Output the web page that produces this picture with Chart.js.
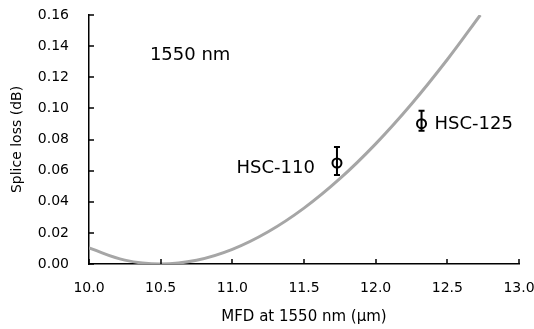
<!DOCTYPE html>
<html>
<head>
<meta charset="utf-8">
<script src="https://cdn.jsdelivr.net/npm/chart.js@4/dist/chart.umd.min.js"></script>
<style>
  html, body { margin: 0; padding: 0; background: #fff; }
  #wrap { width: 534px; height: 329px; position: relative; }
</style>
</head>
<body>
<div id="wrap"><canvas id="c" width="534" height="329"></canvas></div>
<script>
// Theoretical splice-loss curve
const curveMfd  = [10.0, 10.25, 10.5, 10.75, 11.0, 11.25, 11.5, 11.75, 12.0, 12.25, 12.5, 12.73];
const curveLoss = [0.0103, 0.0025, 0.0, 0.0024, 0.0094, 0.0207, 0.0359, 0.0548, 0.0772, 0.1028, 0.1314, 0.160];

// Measured fibers
const fiberNames = ['HSC-110', 'HSC-125'];
const fiberMfd   = [11.73, 12.32];
const fiberLoss  = [0.0649, 0.0902];
const errPlus    = [0.0103, 0.0083];
const errMinus   = [0.0077, 0.0045];

// Axis ticks
const xTicks = [10.0, 10.5, 11.0, 11.5, 12.0, 12.5, 13.0];
const yTicks = [0.00, 0.02, 0.04, 0.06, 0.08, 0.10, 0.12, 0.14, 0.16];

const FONT = "'DejaVu Sans', Verdana, sans-serif";

const innerTicks = {
  id: 'innerTicks',
  afterDatasetsDraw(chart) {
    const ctx = chart.ctx, xs = chart.scales.x, ys = chart.scales.y;
    const a = chart.chartArea;
    ctx.save();
    ctx.strokeStyle = '#000';
    ctx.lineWidth = 1.5;
    ctx.beginPath();
    xTicks.forEach(v => {
      const px = Math.round(xs.getPixelForValue(v));
      ctx.moveTo(px, a.bottom); ctx.lineTo(px, a.bottom - 5);
    });
    yTicks.forEach(v => {
      const py = Math.round(ys.getPixelForValue(v));
      ctx.moveTo(a.left, py); ctx.lineTo(a.left + 5, py);
    });
    ctx.stroke();
    ctx.restore();
  }
};

const errorBars = {
  id: 'errorBars',
  afterDatasetsDraw(chart) {
    const ctx = chart.ctx, xs = chart.scales.x, ys = chart.scales.y;
    ctx.save();
    ctx.strokeStyle = '#000';
    ctx.lineWidth = 2;
    fiberMfd.forEach((m, i) => {
      const px = xs.getPixelForValue(m);
      const top = ys.getPixelForValue(fiberLoss[i] + errPlus[i]);
      const bot = ys.getPixelForValue(fiberLoss[i] - errMinus[i]);
      ctx.beginPath();
      ctx.moveTo(px, top); ctx.lineTo(px, bot);
      ctx.moveTo(px - 3, top); ctx.lineTo(px + 3, top);
      ctx.moveTo(px - 3, bot); ctx.lineTo(px + 3, bot);
      ctx.stroke();
    });
    // annotations
    ctx.fillStyle = '#000';
    ctx.font = '18px ' + FONT;
    ctx.textBaseline = 'middle';
    ctx.textAlign = 'left';
    ctx.fillText('1550 nm', xs.getPixelForValue(10.425), ys.getPixelForValue(0.1338));
    ctx.textAlign = 'right';
    ctx.fillText(fiberNames[0], xs.getPixelForValue(fiberMfd[0]) - 22, ys.getPixelForValue(fiberLoss[0]) + 5);
    ctx.textAlign = 'left';
    ctx.fillText(fiberNames[1], xs.getPixelForValue(fiberMfd[1]) + 13, ys.getPixelForValue(fiberLoss[1]) + 1);
    ctx.restore();
  }
};

new Chart(document.getElementById('c'), {
  type: 'scatter',
  data: {
    datasets: [
      {
        label: 'theory',
        data: curveMfd.map((x, i) => ({ x, y: curveLoss[i] })),
        showLine: true,
        borderColor: '#a6a6a6',
        borderWidth: 3,
        pointRadius: 0,
        tension: 0.4,
        fill: false
      },
      {
        label: 'measured',
        data: fiberMfd.map((x, i) => ({ x, y: fiberLoss[i] })),
        showLine: false,
        pointStyle: 'circle',
        pointRadius: 4.5,
        pointBorderWidth: 2,
        borderColor: '#000',
        backgroundColor: 'rgba(255,255,255,0)'
      }
    ]
  },
  options: {
    responsive: false,
    animation: false,
    devicePixelRatio: 1,
    layout: { padding: 0 },
    plugins: { legend: { display: false }, tooltip: { enabled: false } },
    scales: {
      x: {
        type: 'linear', min: 10, max: 13,
        afterBuildTicks(s) { s.ticks = xTicks.map(v => ({ value: v })); },
        afterFit(s) { s.height = 65; s.paddingLeft = 0; s.paddingRight = 15; },
        grid: { drawOnChartArea: false, drawTicks: false },
        border: { display: true, color: '#000', width: 1.5 },
        ticks: { color: '#000', font: { family: FONT, size: 14 }, padding: 16,
                 callback: v => Number(v).toFixed(1) },
        title: { display: true, text: 'MFD at 1550 nm (µm)', color: '#000',
                 font: { family: FONT, size: 15 }, padding: { top: 4, bottom: 3 } }
      },
      y: {
        type: 'linear', min: 0, max: 0.16,
        afterBuildTicks(s) { s.ticks = yTicks.map(v => ({ value: v })); },
        afterFit(s) { s.width = 89; s.paddingTop = 15; s.paddingBottom = 0; },
        grid: { drawOnChartArea: false, drawTicks: false },
        border: { display: true, color: '#000', width: 1.5 },
        ticks: { color: '#000', font: { family: FONT, size: 14 }, padding: 20,
                 callback: v => Number(v).toFixed(2) },
        title: { display: true, text: 'Splice loss (dB)', color: '#000',
                 font: { family: FONT, size: 14 }, padding: { top: 9, bottom: 4 } }
      }
    }
  },
  plugins: [innerTicks, errorBars]
});
</script>
</body>
</html>
